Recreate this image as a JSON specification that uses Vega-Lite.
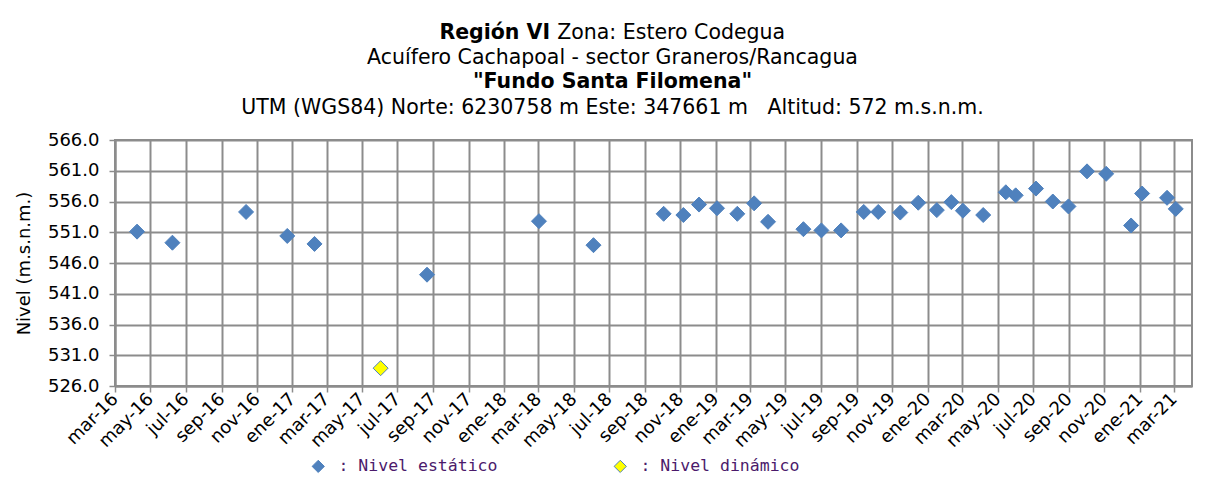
{
  "$schema": "https://vega.github.io/schema/vega-lite/v6.json",
  "width": 1077,
  "height": 246,
  "autosize": "none",
  "padding": {"left": 115, "top": 140, "right": 30, "bottom": 116},
  "background": "white",
  "title": {
    "text": [
      "Región VI\u00a0\u00a0\u00a0\u00a0\u00a0\u00a0\u00a0\u00a0\u00a0\u00a0\u00a0\u00a0\u00a0\u00a0\u00a0\u00a0\u00a0\u00a0\u00a0\u00a0\u00a0\u00a0\u00a0\u00a0\u00a0\u00a0\u00a0\u00a0\u00a0\u00a0\u00a0\u00a0\u00a0\u200b",
      "\"Fundo Santa Filomena\""
    ],
    "subtitle": [
      "\u200b\u00a0\u00a0\u00a0\u00a0\u00a0\u00a0\u00a0\u00a0\u00a0\u00a0\u00a0\u00a0\u00a0\u00a0\u00a0\u00a0\u00a0\u00a0Zona: Estero Codegua",
      "Acuífero Cachapoal - sector Graneros/Rancagua"
    ],
    "anchor": "middle",
    "dx": -41,
    "font": "DejaVu Sans",
    "fontSize": 20.5,
    "fontWeight": "bold",
    "lineHeight": 49.4,
    "color": "black",
    "subtitleFont": "DejaVu Sans",
    "subtitleFontSize": 20.5,
    "subtitleFontWeight": "normal",
    "subtitleLineHeight": 24.7,
    "subtitleColor": "black",
    "subtitlePadding": -69.9,
    "offset": 4
  },
  "data": {
    "values": [
      {"fecha": "2016-04-08", "nivel": 551.1, "tipo": "Nivel estático"},
      {"fecha": "2016-06-08", "nivel": 549.3, "tipo": "Nivel estático"},
      {"fecha": "2016-10-13", "nivel": 554.3, "tipo": "Nivel estático"},
      {"fecha": "2016-12-23", "nivel": 550.4, "tipo": "Nivel estático"},
      {"fecha": "2017-02-08", "nivel": 549.1, "tipo": "Nivel estático"},
      {"fecha": "2017-06-02", "nivel": 528.9, "tipo": "Nivel dinámico"},
      {"fecha": "2017-08-21", "nivel": 544.1, "tipo": "Nivel estático"},
      {"fecha": "2018-03-02", "nivel": 552.8, "tipo": "Nivel estático"},
      {"fecha": "2018-06-04", "nivel": 548.9, "tipo": "Nivel estático"},
      {"fecha": "2018-10-03", "nivel": 554.0, "tipo": "Nivel estático"},
      {"fecha": "2018-11-06", "nivel": 553.8, "tipo": "Nivel estático"},
      {"fecha": "2018-12-03", "nivel": 555.5, "tipo": "Nivel estático"},
      {"fecha": "2019-01-03", "nivel": 554.9, "tipo": "Nivel estático"},
      {"fecha": "2019-02-07", "nivel": 554.0, "tipo": "Nivel estático"},
      {"fecha": "2019-03-08", "nivel": 555.7, "tipo": "Nivel estático"},
      {"fecha": "2019-04-01", "nivel": 552.7, "tipo": "Nivel estático"},
      {"fecha": "2019-06-01", "nivel": 551.5, "tipo": "Nivel estático"},
      {"fecha": "2019-07-02", "nivel": 551.3, "tipo": "Nivel estático"},
      {"fecha": "2019-08-05", "nivel": 551.3, "tipo": "Nivel estático"},
      {"fecha": "2019-09-13", "nivel": 554.3, "tipo": "Nivel estático"},
      {"fecha": "2019-10-08", "nivel": 554.3, "tipo": "Nivel estático"},
      {"fecha": "2019-11-15", "nivel": 554.2, "tipo": "Nivel estático"},
      {"fecha": "2019-12-16", "nivel": 555.8, "tipo": "Nivel estático"},
      {"fecha": "2020-01-17", "nivel": 554.6, "tipo": "Nivel estático"},
      {"fecha": "2020-02-11", "nivel": 555.9, "tipo": "Nivel estático"},
      {"fecha": "2020-03-02", "nivel": 554.5, "tipo": "Nivel estático"},
      {"fecha": "2020-04-06", "nivel": 553.8, "tipo": "Nivel estático"},
      {"fecha": "2020-05-15", "nivel": 557.5, "tipo": "Nivel estático"},
      {"fecha": "2020-06-01", "nivel": 557.0, "tipo": "Nivel estático"},
      {"fecha": "2020-07-06", "nivel": 558.1, "tipo": "Nivel estático"},
      {"fecha": "2020-08-04", "nivel": 556.0, "tipo": "Nivel estático"},
      {"fecha": "2020-08-31", "nivel": 555.2, "tipo": "Nivel estático"},
      {"fecha": "2020-10-02", "nivel": 560.9, "tipo": "Nivel estático"},
      {"fecha": "2020-11-04", "nivel": 560.5, "tipo": "Nivel estático"},
      {"fecha": "2020-12-17", "nivel": 552.1, "tipo": "Nivel estático"},
      {"fecha": "2021-01-05", "nivel": 557.3, "tipo": "Nivel estático"},
      {"fecha": "2021-02-17", "nivel": 556.6, "tipo": "Nivel estático"},
      {"fecha": "2021-03-04", "nivel": 554.8, "tipo": "Nivel estático"}
    ]
  },
  "encoding": {
    "y": {
      "field": "nivel",
      "type": "quantitative",
      "scale": {"domain": [526, 566], "nice": false, "zero": false},
      "axis": {
        "title": "Nivel (m.s.n.m.)",
        "titleFont": "DejaVu Sans",
        "titleFontSize": 18,
        "titleFontWeight": "normal",
        "titleColor": "black",
        "titlePadding": 14,
        "values": [526, 531, 536, 541, 546, 551, 556, 561, 566],
        "format": ".1f",
        "labelFont": "DejaVu Sans",
        "labelFontSize": 18,
        "labelColor": "black",
        "labelPadding": 10,
        "tickSize": 6,
        "tickColor": "#8c8c8c",
        "tickWidth": 1.5,
        "grid": true,
        "gridColor": "#8c8c8c",
        "gridWidth": 2,
        "gridOpacity": 1,
        "domainColor": "#8c8c8c",
        "domainWidth": 2
      }
    },
    "color": {
      "field": "tipo",
      "type": "nominal",
      "scale": {
        "domain": ["Nivel estático", "Nivel dinámico"],
        "range": ["#4F81BD", "#FFFF00"]
      },
      "legend": {
        "orient": "none",
        "legendX": 195,
        "legendY": 318,
        "direction": "horizontal",
        "title": null,
        "labelExpr": "': ' + datum.label",
        "labelFont": "DejaVu Sans Mono",
        "labelFontSize": 16.5,
        "labelColor": "#4b1a6b",
        "symbolType": "diamond",
        "symbolSize": 150,
        "symbolStrokeColor": "#4F81BD",
        "symbolStrokeWidth": 1,
        "labelOffset": 12,
        "columnPadding": 114
      }
    }
  },
  "layer": [
    {
      "transform": [{"filter": "datum.tipo === 'Nivel estático'"}],
      "mark": {
        "type": "point",
        "shape": "diamond",
        "filled": true,
        "size": 225,
        "stroke": "#4F81BD",
        "strokeWidth": 1,
        "opacity": 1
      },
      "encoding": {
        "x": {
          "field": "fecha",
          "type": "temporal",
          "scale": {
            "type": "utc",
            "domain": [
              {"year": 2016, "month": 3, "date": 1, "utc": true},
              {"year": 2021, "month": 4, "date": 1, "utc": true}
            ]
          },
          "axis": {
            "title": null,
            "tickCount": {"interval": "month", "step": 2},
            "labelExpr": "['ene','feb','mar','abr','may','jun','jul','ago','sep','oct','nov','dic'][utcmonth(datum.value)] + '-' + utcFormat(datum.value, '%y')",
            "labelAngle": -45,
            "labelAlign": "right",
            "labelBaseline": "middle",
            "labelFont": "DejaVu Sans",
            "labelFontSize": 18,
            "labelColor": "black",
            "labelPadding": 4,
            "labelOverlap": false,
            "labelBound": false,
            "labelFlush": false,
            "tickSize": 6,
            "tickColor": "#8c8c8c",
            "tickWidth": 1.5,
            "grid": true,
            "gridColor": "#8c8c8c",
            "gridWidth": 2,
            "gridOpacity": 1,
            "domainColor": "#8c8c8c",
            "domainWidth": 2
          }
        }
      }
    },
    {
      "transform": [{"filter": "datum.tipo === 'Nivel dinámico'"}],
      "mark": {
        "type": "point",
        "shape": "diamond",
        "filled": true,
        "size": 225,
        "stroke": "#4F81BD",
        "strokeWidth": 1,
        "opacity": 1
      },
      "encoding": {
        "x": {
          "field": "fecha",
          "type": "temporal",
          "scale": {
            "type": "utc",
            "domain": [
              {"year": 2016, "month": 3, "date": 1, "utc": true},
              {"year": 2021, "month": 4, "date": 1, "utc": true}
            ]
          },
          "axis": {
            "orient": "top",
            "title": "UTM (WGS84) Norte: 6230758 m Este: 347661 m\u00a0\u00a0\u00a0Altitud: 572 m.s.n.m.",
            "titleFont": "DejaVu Sans",
            "titleFontSize": 20.5,
            "titleFontWeight": "normal",
            "titleColor": "black",
            "titleX": 497,
            "titlePadding": 23,
            "labels": false,
            "ticks": false,
            "domain": false,
            "grid": false
          }
        }
      }
    }
  ],
  "resolve": {"axis": {"x": "independent"}},
  "config": {
    "font": "DejaVu Sans",
    "view": {"stroke": "#8c8c8c", "strokeWidth": 2}
  }
}
